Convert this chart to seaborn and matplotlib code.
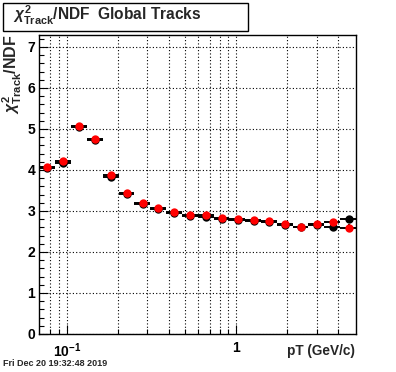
import matplotlib
matplotlib.use("Agg")
import numpy as np
import pandas as pd
import matplotlib.pyplot as plt
from matplotlib.ticker import FixedLocator, FixedFormatter, MultipleLocator, NullFormatter
from matplotlib.patches import Rectangle
import seaborn as sns

# bin edges and centres in pT (GeV/c)
bin_lo = [0.0690, 0.0856, 0.1062, 0.1317, 0.1633, 0.2025, 0.2512, 0.3115, 0.3864, 0.4792,
          0.5943, 0.7371, 0.9141, 1.1337, 1.406, 1.744, 2.163, 2.682, 3.327, 4.126]
bin_hi = [0.0856, 0.1062, 0.1317, 0.1633, 0.2025, 0.2512, 0.3115, 0.3864, 0.4792, 0.5943,
          0.7371, 0.9141, 1.1337, 1.406, 1.744, 2.163, 2.682, 3.327, 4.126, 5.117]
pt = [0.0769, 0.0954, 0.1184, 0.1469, 0.1823, 0.2261, 0.2805, 0.348, 0.4318, 0.5358,
      0.6648, 0.8249, 1.0238, 1.27, 1.576, 1.956, 2.427, 3.011, 3.736, 4.636]

# chi2/NDF per bin, two track sets (black drawn under red)
chi2_red = [4.08, 4.21, 5.08, 4.75, 3.87, 3.45, 3.20, 3.07, 2.98, 2.91,
            2.89, 2.84, 2.81, 2.77, 2.75, 2.68, 2.62, 2.68, 2.72, 2.58]
chi2_black = [4.05, 4.18, 5.05, 4.72, 3.84, 3.42, 3.17, 3.04, 2.95, 2.88,
              2.86, 2.81, 2.79, 2.75, 2.73, 2.66, 2.60, 2.66, 2.60, 2.80]
err_red = [0.01] * 18 + [0.03, 0.10]
err_black = [0.01] * 18 + [0.04, 0.08]

df = pd.DataFrame({"pt": pt, "lo": bin_lo, "hi": bin_hi,
                   "red": chi2_red, "black": chi2_black,
                   "ered": err_red, "eblack": err_black})

sns.set_style("ticks")
plt.rcParams["font.family"] = ["Liberation Sans", "DejaVu Sans"]
plt.rcParams["font.weight"] = "bold"
plt.rcParams["mathtext.fontset"] = "custom"
plt.rcParams["mathtext.rm"] = "Liberation Sans:bold"
plt.rcParams["mathtext.bf"] = "Liberation Sans:bold"
plt.rcParams["mathtext.it"] = "Liberation Sans:italic:bold"

fig = plt.figure(figsize=(3.96, 3.72), dpi=100)
ax = fig.add_axes([0.0997, 0.1022, 0.7993, 0.8024])
ax.set_xscale("log")

xerr = [df["pt"] - df["lo"], df["hi"] - df["pt"]]
ax.errorbar(df["pt"], df["black"], xerr=xerr, yerr=df["eblack"], fmt="none",
            ecolor="black", elinewidth=1.4, capsize=0, zorder=3)
ax.errorbar(df["pt"], df["red"], xerr=xerr, yerr=df["ered"], fmt="none",
            ecolor="black", elinewidth=1.4, capsize=0, zorder=3)
sns.scatterplot(data=df, x="pt", y="black", color="black", s=36, linewidth=0, ax=ax, zorder=4)
sns.scatterplot(data=df, x="pt", y="red", color="red", s=36, linewidth=0, ax=ax, zorder=5)

ax.set_xlim(0.069, 5.12)
ax.set_ylim(0, 7.28)
ax.set_xlabel("")
ax.set_ylabel("")

ax.xaxis.set_major_locator(FixedLocator([0.1, 1]))
ax.xaxis.set_major_formatter(FixedFormatter([r"$\mathbf{10^{-1}}$", "1"]))
ax.xaxis.set_minor_locator(FixedLocator([0.08, 0.09, 0.2, 0.3, 0.4, 0.5, 0.6, 0.7, 0.8, 0.9, 2, 3, 4]))
ax.xaxis.set_minor_formatter(NullFormatter())
ax.yaxis.set_major_locator(MultipleLocator(1))
ax.yaxis.set_minor_locator(MultipleLocator(0.2))

ax.tick_params(which="both", direction="in", top=False, right=False, width=0.8, colors="black")
ax.tick_params(which="major", length=6.5, labelsize=10)
ax.tick_params(which="minor", length=3.6)
ax.tick_params(axis="y", pad=3)
ax.tick_params(axis="x", pad=5)

grid_kw = dict(color="black", linestyle=(0, (1, 2)), linewidth=0.8)
ax.grid(True, which="both", axis="x", **grid_kw)
ax.grid(True, which="major", axis="y", **grid_kw)
for s in ax.spines.values():
    s.set_color("black")
    s.set_linewidth(1.0)

# title box
fig.patches.append(Rectangle((3 / 396, 1 - 30.7 / 372), 245 / 396, 27.7 / 372,
                             transform=fig.transFigure, facecolor="white",
                             edgecolor="black", linewidth=1.0))
fig.text(12.7 / 396, 1 - 20.5 / 372, r"$\chi^{2}_{\mathrm{Track}}$/NDF  Global Tracks",
         fontsize=11.2, fontweight="bold", ha="left", va="baseline")

fig.text(12 / 396, 1 - 34 / 372, r"$\chi^{2}_{\mathrm{Track}}$/NDF", rotation=90,
         fontsize=11.5, fontweight="bold", ha="center", va="top")
fig.text(355 / 396, 1 - 355 / 372, "pT (GeV/c)", fontsize=9.8, fontweight="bold",
         ha="right", va="baseline")
fig.text(3 / 396, 1 - 366.5 / 372, "Fri Dec 20 19:32:48 2019", fontsize=6.5,
         fontweight="bold", ha="left", va="baseline")

fig.savefig("out.png", dpi=100)
